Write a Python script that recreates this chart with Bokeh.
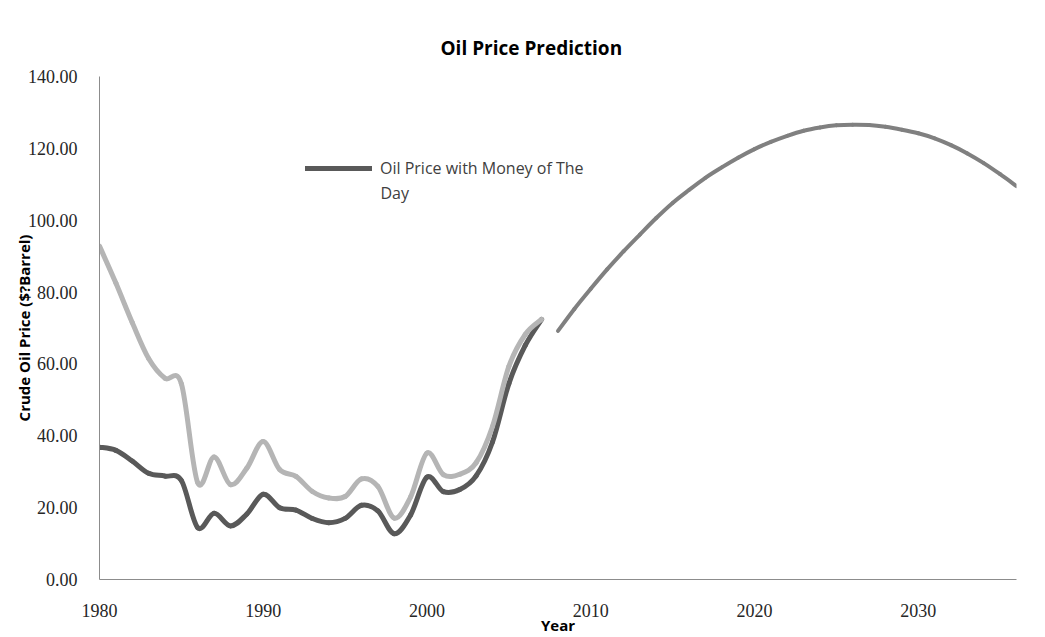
import numpy as np
from bokeh.plotting import figure
from bokeh.models import Range1d, FixedTicker, NumeralTickFormatter, Legend, LegendItem, Label
from bokeh.embed import file_html
from bokeh.resources import INLINE

# ---------------- data ----------------
hist_years = list(range(1980, 2008))
price_money_of_day = [36.83, 35.93, 32.97, 29.55, 28.78, 27.56, 14.43, 18.44, 14.92, 18.23,
                      23.73, 20.00, 19.32, 16.97, 15.82, 17.02, 20.67, 19.09, 12.72, 17.97,
                      28.50, 24.44, 25.02, 28.83, 38.27, 54.52, 65.14, 72.39]
price_real = [92.8, 82.5, 71.5, 61.5, 56.0, 54.5, 26.9, 34.1, 26.4, 31.0,
              38.4, 30.6, 28.7, 24.5, 22.7, 23.1, 28.0, 25.9, 17.1, 23.0,
              35.2, 29.2, 29.3, 32.5, 42.6, 59.3, 68.2, 72.4]
forecast_years = list(range(2008, 2037))
forecast_price = [69.2, 75.3, 80.9, 86.3, 91.3, 96.0, 100.6, 104.8, 108.4, 111.8,
                  114.7, 117.4, 119.8, 121.8, 123.5, 124.9, 125.8, 126.4, 126.6, 126.5,
                  126.0, 125.2, 124.2, 122.8, 120.9, 118.6, 115.9, 112.8, 109.5]
x_ticks = [1980, 1990, 2000, 2010, 2020, 2030]
y_ticks = [0, 20, 40, 60, 80, 100, 120, 140]
legend_label_line1 = "Oil Price with Money of The"
legend_label_line2 = "Day"

DARK = "#595959"
LIGHT = "#b5b5b5"
MID = "#808080"


def smooth(xs, ys):
    """Excel-style smoothed line: cubic Bezier segment between consecutive data points."""
    xs = np.asarray(xs, dtype=float)
    ys = np.asarray(ys, dtype=float)
    xp = np.concatenate([[xs[0]], xs[:-2]])
    yp = np.concatenate([[ys[0]], ys[:-2]])
    xn = np.concatenate([xs[2:], [xs[-1]]])
    yn = np.concatenate([ys[2:], [ys[-1]]])
    x0, y0, x1, y1 = xs[:-1], ys[:-1], xs[1:], ys[1:]
    return dict(x0=x0, y0=y0, x1=x1, y1=y1,
                cx0=x0 + (x1 - xp) / 6.0, cy0=y0 + (y1 - yp) / 6.0,
                cx1=x1 - (xn - x0) / 6.0, cy1=y1 - (yn - y0) / 6.0)


W, H = 1040, 637
p = figure(width=W, height=H, output_backend="svg", toolbar_location=None,
           x_range=Range1d(1980, 2036), y_range=Range1d(0, 140),
           min_border_left=99, min_border_right=24, min_border_top=76, min_border_bottom=57)

p.title.text = "Oil Price Prediction"
p.title.align = "left"
p.title.offset = 341
p.title.standoff = 32
p.title.text_font = "Open Sans"
p.title.text_font_size = "19px"
p.title.text_font_style = "bold"
p.title.text_color = "#000000"

r_dark = p.bezier(**smooth(hist_years, price_money_of_day), line_color=DARK, line_width=5, line_cap="round")
r_light = p.bezier(**smooth(hist_years, price_real), line_color=LIGHT, line_width=5, line_cap="round")
r_fc = p.bezier(**smooth(forecast_years, forecast_price), line_color=MID, line_width=4, line_cap="round")

p.xgrid.visible = False
p.ygrid.visible = False
p.outline_line_color = None

for ax in (p.xaxis[0], p.yaxis[0]):
    ax.axis_line_color = "#8c8c8c"
    ax.axis_line_width = 1
    ax.major_tick_line_color = None
    ax.minor_tick_line_color = None
    ax.major_tick_out = 0
    ax.major_tick_in = 0
    ax.minor_tick_out = 0
    ax.major_label_text_font = "Liberation Serif"
    ax.major_label_text_font_size = "18px"
    ax.major_label_text_color = "#262626"
    ax.axis_label_text_font = "Open Sans"
    ax.axis_label_text_font_style = "bold"
    ax.axis_label_text_color = "#000000"

p.xaxis.ticker = FixedTicker(ticks=x_ticks)
p.xaxis.axis_label = "Year"
p.xaxis.axis_label_text_font_size = "15px"
p.xaxis.major_label_standoff = 24
p.xaxis.axis_label_standoff = -5

p.yaxis.ticker = FixedTicker(ticks=y_ticks)
p.yaxis.formatter = NumeralTickFormatter(format="0.00")
p.yaxis.axis_label = "Crude Oil Price ($?Barrel)"
p.yaxis.axis_label_text_font_size = "15px"
p.yaxis.major_label_standoff = 22
p.yaxis.axis_label_standoff = -9

legend = Legend(items=[LegendItem(label=legend_label_line1, renderers=[r_dark])],
                location=(206, 400), orientation="vertical",
                background_fill_alpha=0, border_line_color=None,
                padding=0, margin=0, spacing=0,
                glyph_width=67, glyph_height=20, label_height=20, label_standoff=8,
                label_text_font="Open Sans", label_text_font_size="16px",
                label_text_color="#404040")
p.add_layout(legend)

# wrapped second line of the legend label (screen units are relative to the frame's bottom-left)
p.add_layout(Label(x=281, y=387, x_units="screen", y_units="screen",
                   text=legend_label_line2, text_font="Open Sans", text_font_size="16px",
                   text_color="#404040", text_baseline="middle", text_align="left"))

open("out.html", "w").write(file_html(p, INLINE))
